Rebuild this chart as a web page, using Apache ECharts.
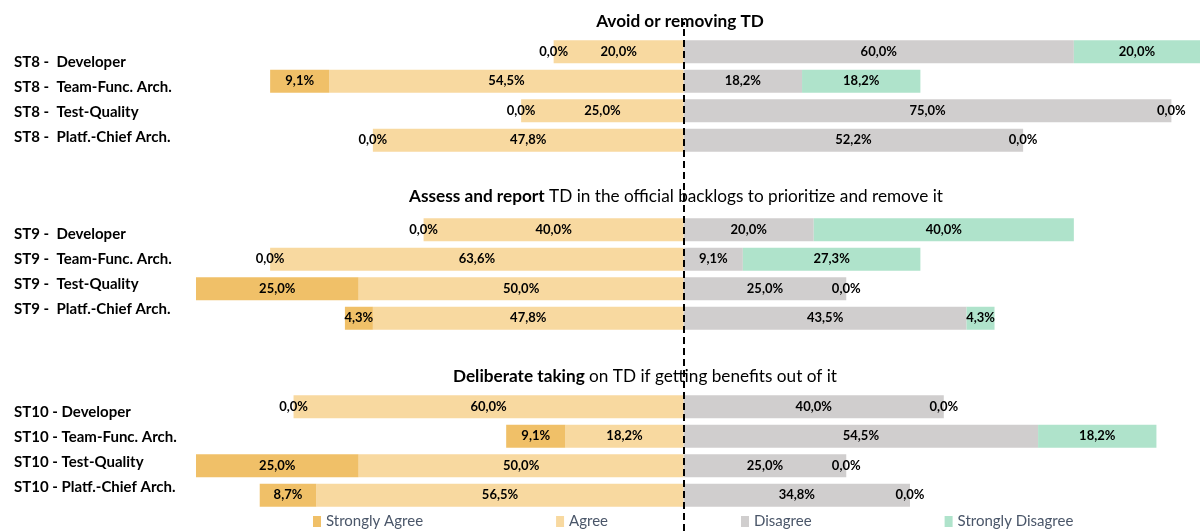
<!DOCTYPE html>
<html>
<head>
<meta charset="utf-8" />
<script src="https://cdn.jsdelivr.net/npm/echarts@6/dist/echarts.min.js"></script>
<style>
  html, body { margin: 0; padding: 0; background: #fff; }
  #main { width: 1200px; height: 531px; }
</style>
</head>
<body>
<div id="main"></div>
<script>
// statements (group titles)
var titleBold = ['Avoid or removing TD', 'Assess and report', 'Deliberate taking'];
var titleRest = ['', ' TD in the official backlogs to prioritize and remove it', ' on TD if getting benefits out of it'];

var levels = ['Strongly Agree', 'Agree', 'Disagree', 'Strongly Disagree'];
var roles = ['Developer', 'Team-Func. Arch.', 'Test-Quality', 'Platf.-Chief Arch.'];

var st8Labels = ['ST8 -  Developer', 'ST8 -  Team-Func. Arch.', 'ST8 -  Test-Quality', 'ST8 -  Platf.-Chief Arch.'];
var st9Labels = ['ST9 -  Developer', 'ST9 -  Team-Func. Arch.', 'ST9 -  Test-Quality', 'ST9 -  Platf.-Chief Arch.'];
var st10Labels = ['ST10 - Developer', 'ST10 - Team-Func. Arch.', 'ST10 - Test-Quality', 'ST10 - Platf.-Chief Arch.'];

// percentages per role, order as in roles
var st8StronglyAgree = [0, 9.1, 0, 0];
var st8Agree = [20, 54.5, 25, 47.8];
var st8Disagree = [60, 18.2, 75, 52.2];
var st8StronglyDisagree = [20, 18.2, 0, 0];

var st9StronglyAgree = [0, 0, 25, 4.3];
var st9Agree = [40, 63.6, 50, 47.8];
var st9Disagree = [20, 9.1, 25, 43.5];
var st9StronglyDisagree = [40, 27.3, 0, 4.3];

var st10StronglyAgree = [0, 9.1, 25, 8.7];
var st10Agree = [60, 18.2, 50, 56.5];
var st10Disagree = [40, 54.5, 25, 34.8];
var st10StronglyDisagree = [0, 18.2, 0, 0];

var colors = ['#F0C068', '#F8D9A0', '#D0CECE', '#AFE3CB'];
var FONT = "Lato, 'DejaVu Sans Condensed', sans-serif";

var groups = [
  { labels: st8Labels, vals: [st8StronglyAgree, st8Agree, st8Disagree, st8StronglyDisagree] },
  { labels: st9Labels, vals: [st9StronglyAgree, st9Agree, st9Disagree, st9StronglyDisagree] },
  { labels: st10Labels, vals: [st10StronglyAgree, st10Agree, st10Disagree, st10StronglyDisagree] }
];

function fmt(v) {
  return Math.abs(v).toFixed(1).replace('.', ',') + '%';
}

var XMIN = -75, XMAX = 79.4;
var barTops = [37, 215, 392];
var labelTops = [50, 221.5, 399.5];
var titleX = [680, 676, 645];
var titleY = [13, 188, 368];

var grid = [], xAxis = [], yAxis = [], series = [], title = [];

groups.forEach(function (g, gi) {
  // bar grid
  grid.push({ left: 196, right: 0, top: barTops[gi], height: 118 });
  xAxis.push({ type: 'value', gridIndex: gi, min: XMIN, max: XMAX, show: false });
  yAxis.push({ type: 'category', gridIndex: gi, inverse: true, data: roles, show: false });

  // left side: Agree from 0 outwards, then Strongly Agree; right side: Disagree, then Strongly Disagree
  var order = [1, 0, 2, 3];
  order.forEach(function (li) {
    var neg = li < 2;
    series.push({
      name: levels[li],
      type: 'bar',
      xAxisIndex: gi,
      yAxisIndex: gi,
      stack: (neg ? 'neg' : 'pos') + gi,
      stackStrategy: 'all',
      barWidth: 23,
      barGap: '-100%',
      itemStyle: { color: colors[li] },
      label: {
        show: true,
        position: 'inside',
        color: '#000',
        fontFamily: FONT,
        fontWeight: 'bold',
        fontSize: 13,
        formatter: function (p) { return fmt(p.value); }
      },
      emphasis: { disabled: true },
      data: g.vals[li].map(function (v) { return neg ? -v : v; })
    });
  });

  title.push({
    text: titleRest[gi] ? '{b|' + titleBold[gi] + '}' + titleRest[gi] : '{b|' + titleBold[gi] + '}',
    left: titleX[gi],
    top: titleY[gi],
    textAlign: 'center',
    padding: 0,
    textStyle: {
      fontFamily: FONT,
      fontSize: 17.2,
      fontWeight: 'normal',
      color: '#000',
      rich: { b: { fontFamily: FONT, fontSize: 17.2, fontWeight: 'bold', color: '#000' } }
    }
  });
});

// category label grids (text column on the left)
groups.forEach(function (g, gi) {
  var idx = 3 + gi;
  grid.push({ left: 14, width: 10, top: labelTops[gi], height: 100 });
  xAxis.push({ type: 'value', gridIndex: idx, show: false });
  yAxis.push({
    type: 'category', gridIndex: idx, inverse: true, data: g.labels,
    axisLine: { show: false }, axisTick: { show: false },
    axisLabel: { align: 'left', margin: 0, color: '#000', fontFamily: FONT, fontWeight: 'bold', fontSize: 15 }
  });
});

// overlay grid for the dashed zero line
grid.push({ left: 196, right: 0, top: 22, bottom: 0 });
xAxis.push({ type: 'value', gridIndex: 6, min: XMIN, max: XMAX, show: false });
yAxis.push({ type: 'value', gridIndex: 6, min: 0, max: 1, show: false });
series.push({
  type: 'line',
  xAxisIndex: 6,
  yAxisIndex: 6,
  data: [],
  z: 10,
  markLine: {
    silent: true,
    symbol: 'none',
    label: { show: false },
    lineStyle: { color: '#000', type: [7, 4], width: 2 },
    data: [{ xAxis: 0 }]
  }
});

var chart = echarts.init(document.getElementById('main'), null, { renderer: 'canvas' });
chart.setOption({
  animation: false,
  title: title,
  legend: {
    data: levels,
    left: 313,
    bottom: 0,
    padding: [0, 0, 2, 0],
    itemGap: 133,
    itemWidth: 8,
    itemHeight: 11,
    icon: 'rect',
    textStyle: { fontFamily: FONT, fontSize: 15, color: '#4A5669' }
  },
  grid: grid,
  xAxis: xAxis,
  yAxis: yAxis,
  series: series
});
</script>
</body>
</html>
